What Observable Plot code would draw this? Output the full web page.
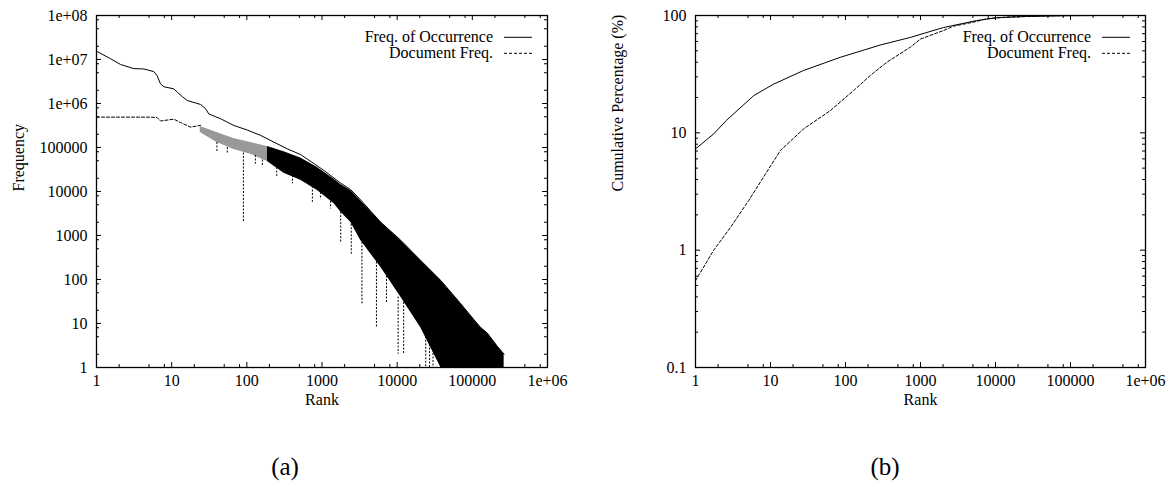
<!DOCTYPE html>
<html><head><meta charset="utf-8">
<script src="https://cdn.jsdelivr.net/npm/d3@7"></script>
<script src="https://cdn.jsdelivr.net/npm/@observablehq/plot@0.6"></script>
<style>
html,body{margin:0;padding:0;background:#fff;}
#wrap{position:relative;width:1172px;height:487px;font-family:'Liberation Serif','DejaVu Serif',serif;}
#row{display:flex;}
#row svg{display:block;}
#row svg text{font-family:'Liberation Serif','DejaVu Serif',serif;}
.cap{position:absolute;top:452px;width:100px;text-align:center;font-size:25px;line-height:30px;color:#000;font-family:'Liberation Serif','DejaVu Serif',serif;}
</style></head>
<body><div id="wrap"><div id="row"></div></div>
<script>
// ---------- data ----------
const captions = ["(a)", "(b)"];
const xLabel = "Rank";
const yLabelA = "Frequency";
const yLabelB = "Cumulative Percentage (%)";
const seriesNames = ["Freq. of Occurrence", "Document Freq."];

const xTicks = [1, 10, 100, 1000, 10000, 100000, 1000000];
const xTickLabels = ["1", "10", "100", "1000", "10000", "100000", "1e+06"];
const yTicksA = [1, 10, 100, 1000, 1e4, 1e5, 1e6, 1e7, 1e8];
const yTickLabelsA = ["1", "10", "100", "1000", "10000", "100000", "1e+06", "1e+07", "1e+08"];
const yTicksB = [0.1, 1, 10, 100];
const yTickLabelsB = ["0.1", "1", "10", "100"];

// (a) frequency of occurrence by rank
const occRank = [1, 1.54, 2.09, 3.14, 4.27, 5.8, 6.4, 7.1, 7.9, 10.7, 11.9, 13.8, 16.1, 24.3, 28.3, 31.2, 44.8, 67.3, 101, 153, 230, 346, 520, 1064, 1774, 2410, 3275, 6050, 11170, 20600, 38100, 70300, 106000, 130000, 159000, 216000, 265000];
const occFreq = [1.55e7, 1.04e7, 7.7e6, 6.2e6, 6.1e6, 5.3e6, 4.3e6, 2.8e6, 2.4e6, 2.15e6, 1.8e6, 1.44e6, 1.17e6, 9.5e5, 7.6e5, 5.8e5, 4.5e5, 3.16e5, 2.5e5, 1.88e5, 1.32e5, 9.3e4, 6.9e4, 3.0e4, 1.55e4, 1.1e4, 6.4e3, 2.0e3, 780, 270, 95, 28, 12, 8, 6, 3, 2];

// (a) document frequency: smooth head, then a dense noisy band (upper / lower envelope), plus deep spikes
const docHeadRank = [1, 5.2, 6.4, 7.1, 8.7, 10.7, 13.1, 17.8, 24.3];
const docHeadFreq = [4.9e5, 4.9e5, 4.8e5, 4.0e5, 4.2e5, 4.4e5, 3.7e5, 2.9e5, 3.2e5];
const docBandRank = [24, 40, 67, 112, 188, 312, 520, 870, 1450, 1774, 2410, 3275, 6050, 11170, 20600, 38100, 70300, 106000, 130000, 159000, 216000, 265000];
const docBandHi = [3.0e5, 2.2e5, 1.6e5, 1.3e5, 1.05e5, 8.0e4, 5.8e4, 3.5e4, 1.9e4, 1.45e4, 1.05e4, 6.2e3, 2.0e3, 770, 270, 95, 28, 12, 8, 6, 3, 2];
const docBandLo = [2.2e5, 1.3e5, 9.0e4, 7.0e4, 4.8e4, 2.6e4, 1.8e4, 1.05e4, 5.3e3, 3.4e3, 2.0e3, 770, 190, 40, 8, 1, 1, 1, 1, 1, 1, 1];
const spikeRank = [40, 55, 90, 130, 161, 250, 405, 745, 960, 1300, 1774, 2450, 3400, 5300, 7200, 10300, 12200, 24000, 27000, 30000];
const spikeTop = [1.3e5, 1.0e5, 7.5e4, 6.6e4, 5.2e4, 3.5e4, 2.3e4, 1.3e4, 9.5e3, 6.0e3, 3.4e3, 1.8e3, 700, 250, 120, 40, 30, 6, 4, 3];
const spikeEnd = [8.0e4, 7.0e4, 2000, 4.2e4, 3.6e4, 2.2e4, 1.5e4, 5700, 6.5e3, 4.0e3, 650, 350, 26, 8, 28, 2, 2, 1, 1, 1];

// (b) cumulative percentages
const cumOccRank = [1, 1.75, 2.56, 6.0, 11, 27.6, 85, 290, 730, 2030, 5630, 10400, 26000, 100000, 265000];
const cumOccPct = [7.3, 9.8, 12.7, 20.8, 26, 34, 44, 56, 65, 79, 90.6, 95.6, 98, 99.8, 100];
const cumDocRank = [1, 1.75, 2.92, 5.1, 13.5, 27.6, 63, 128, 214, 357, 730, 1000, 2030, 2750, 5630, 7650, 15600, 50000, 265000];
const cumDocPct = [0.55, 1.0, 1.56, 2.64, 7.05, 10.8, 15.5, 22.9, 30.8, 40, 53.7, 63, 74.5, 81, 89, 94, 97.5, 99.6, 100];

// ---------- build ----------
const FONT = "'Liberation Serif', 'DejaVu Serif', serif";
const DASH = "3,2";
const pairs = (xs, ys, kx, ky) => xs.map((x, i) => ({[kx]: x, [ky]: ys[i]}));
const occ = pairs(occRank, occFreq, "rank", "v");
const docHead = pairs(docHeadRank, docHeadFreq, "rank", "v");
const band = docBandRank.map((r, i) => ({rank: r, hi: docBandHi[i], lo: docBandLo[i]}));
const spikes = spikeRank.map((r, i) => ({rank: r, top: spikeTop[i], end: spikeEnd[i]}));
const cumOcc = pairs(cumOccRank, cumOccPct, "rank", "v");
const cumDoc = pairs(cumDocRank, cumDocPct, "rank", "v");

const minorOf = (decades, mults) => decades.flatMap(d => mults.map(m => d * m));
const xMinor = minorOf([1, 10, 100, 1000, 1e4, 1e5], [2, 5, 8]);
const yMinorA = minorOf([1, 10, 100, 1000, 1e4, 1e5, 1e6, 1e7], [2, 5, 8]);
const yMinorB = minorOf([0.1, 1, 10], [2, 3, 4, 5, 6, 7, 8, 9]);

const fmt = (ticks, labels) => d => {
  const i = ticks.findIndex(t => Math.abs(Math.log10(t) - Math.log10(d)) < 1e-6);
  return i < 0 ? "" : labels[i];
};

function legend(items) {
  return function (...args) {
    const dims = args.find(a => a && typeof a === "object" && "marginTop" in a && "width" in a) || {};
    const g = d3.create("svg:g").attr("font-family", FONT).attr("font-size", 16).attr("fill", "#000");
    const xr = dims.width - dims.marginRight;
    items.forEach((it, i) => {
      const y = dims.marginTop + 22.3 + i * 16;
      g.append("text").attr("x", xr - 54).attr("y", y).attr("dy", "0.32em").attr("text-anchor", "end").text(it.label);
      g.append("line").attr("x1", xr - 43).attr("x2", xr - 15).attr("y1", y).attr("y2", y)
        .attr("stroke", "#000").attr("stroke-width", 1).attr("stroke-dasharray", it.dash);
    });
    return g.node();
  };
}

function chart({width, height, ml, mr, mt, mb, yDomain, yTicks, yLabels, yMinor, ylabel, marks}) {
  const iw = width - ml - mr, ih = height - mt - mb;
  return Plot.plot({
    width, height, marginLeft: ml, marginRight: mr, marginTop: mt, marginBottom: mb,
    style: {fontFamily: FONT, fontSize: "16px", color: "#000", background: "#fff", overflow: "visible"},
    x: {type: "log", domain: [1, 1e6], label: null},
    y: {type: "log", domain: yDomain, label: null},
    marks: [
      ...marks,
      Plot.ruleX(xTicks, {insetTop: ih - 5, stroke: "#000"}),
      Plot.ruleX(xTicks, {insetBottom: ih - 5, stroke: "#000"}),
      Plot.ruleX(xMinor, {insetTop: ih - 3, stroke: "#000"}),
      Plot.ruleX(xMinor, {insetBottom: ih - 3, stroke: "#000"}),
      Plot.ruleY(yTicks, {insetRight: iw - 5, stroke: "#000"}),
      Plot.ruleY(yTicks, {insetLeft: iw - 5, stroke: "#000"}),
      Plot.ruleY(yMinor, {insetRight: iw - 3, stroke: "#000"}),
      Plot.ruleY(yMinor, {insetLeft: iw - 3, stroke: "#000"}),
      Plot.axisX({ticks: xTicks, tickFormat: fmt(xTicks, xTickLabels), tickSize: 0, tickPadding: 7, label: null}),
      Plot.axisY({ticks: yTicks, tickFormat: fmt(yTicks, yLabels), tickSize: 0, tickPadding: 9, label: null}),
      Plot.frame({stroke: "#000", strokeWidth: 1.3}),
      Plot.text([xLabel], {frameAnchor: "bottom", dy: 37, text: d => d, fill: "#000"}),
      Plot.text([ylabel], {frameAnchor: "left", dx: -78, rotate: -90, text: d => d, fill: "#000"}),
      legend([{label: seriesNames[0], dash: null}, {label: seriesNames[1], dash: DASH}])
    ]
  });
}

const left = chart({
  width: 586, height: 415, ml: 96, mr: 39, mt: 15, mb: 48,
  yDomain: [1, 1e8], yTicks: yTicksA, yLabels: yTickLabelsA, yMinor: yMinorA, ylabel: yLabelA,
  marks: [
    Plot.areaY(band.filter(d => d.rank <= 188), {x: "rank", y1: "lo", y2: "hi", fill: "#000", fillOpacity: 0.4}),
    Plot.areaY(band.filter(d => d.rank >= 188), {x: "rank", y1: "lo", y2: "hi", fill: "#000"}),
    Plot.ruleX(spikes, {x: "rank", y1: "top", y2: "end", stroke: "#000", strokeDasharray: "2,1.5"}),
    Plot.line(docHead.concat([{rank: band[0].rank, v: band[0].hi}]), {x: "rank", y: "v", stroke: "#000", strokeWidth: 1, strokeDasharray: DASH}),
    Plot.line(occ, {x: "rank", y: "v", stroke: "#000", strokeWidth: 1})
  ]
});

const right = chart({
  width: 586, height: 415, ml: 109, mr: 27, mt: 15, mb: 48,
  yDomain: [0.1, 100], yTicks: yTicksB, yLabels: yTickLabelsB, yMinor: yMinorB, ylabel: yLabelB,
  marks: [
    Plot.line(cumDoc, {x: "rank", y: "v", stroke: "#000", strokeWidth: 1, strokeDasharray: DASH}),
    Plot.line(cumOcc, {x: "rank", y: "v", stroke: "#000", strokeWidth: 1})
  ]
});

const row = document.getElementById("row");
row.appendChild(left);
row.appendChild(right);

const wrap = document.getElementById("wrap");
[[captions[0], 285], [captions[1], 885]].forEach(([t, cx]) => {
  const d = document.createElement("div");
  d.className = "cap";
  d.style.left = (cx - 50) + "px";
  d.textContent = t;
  wrap.appendChild(d);
});
</script>
</body></html>
